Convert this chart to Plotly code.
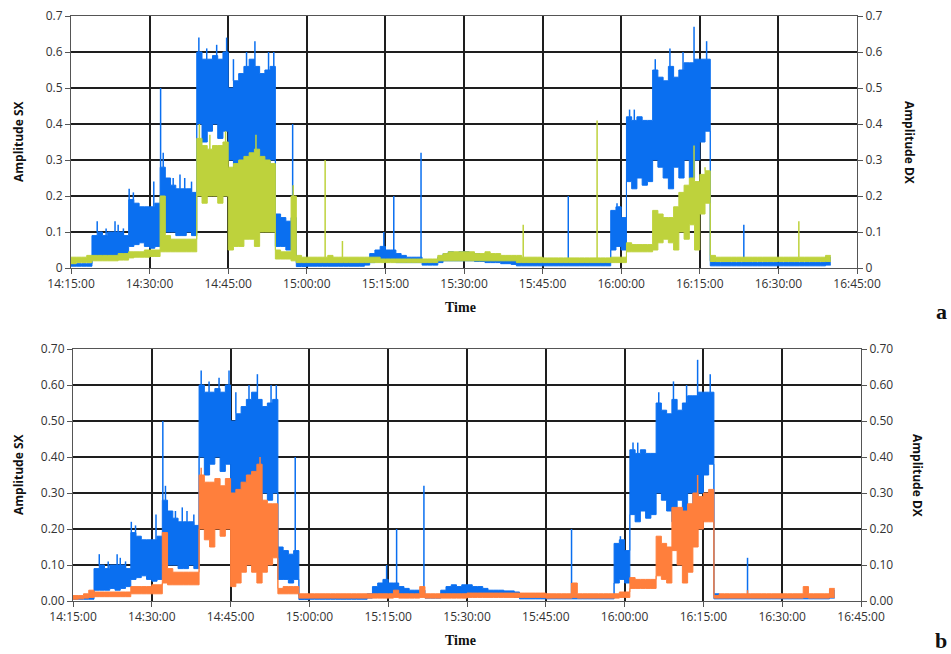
import plotly.graph_objects as go
from datetime import datetime, timedelta

# ---------------- data (per-minute envelope of the dense signal, minute 0 = 14:15:00) ----------------
SX_HI = [
    .012, .012, .012, .012, .09, .10, .09, .10, .10, .10, .09, .19, .18, .17, .17,
    .17, .18, .28, .25, .23, .22, .22, .22, .21, .60, .58, .58, .59, .58, .60,
    .50, .52, .54, .56, .58, .56, .54, .55, .56, .15, .14, .13, .14, .015, .015,
    .015, .015, .015, .015, .015, .015, .018, .018, .018, .018, .018, .02, .04, .05, .06,
    .05, .05, .04, .035, .03, .03, .03, .015, .015, .015, .03, .04, .045, .04, .045,
    .045, .04, .04, .035, .03, .03, .03, .028, .028, .025, .015, .015, .015, .015, .015,
    .015, .015, .015, .015, .015, .015, .015, .015, .015, .015, .015, .015, .015, .16, .17,
    .14, .42, .41, .42, .41, .41, .55, .53, .52, .56, .53, .55, .57, .57, .58,
    .58, .58, .02, .015, .015, .015, .015, .015, .015, .015, .015, .015, .015, .015, .015,
    .015, .015, .015, .015, .015, .015, .015, .015, .015, .03,
]
SX_LO = [
    .005, .005, .005, .005, .03, .03, .03, .035, .03, .035, .04, .06, .065, .07, .06,
    .055, .06, .12, .10, .10, .09, .09, .10, .09, .40, .35, .38, .40, .36, .38,
    .30, .25, .30, .28, .30, .25, .30, .28, .30, .06, .06, .05, .06, .004, .004,
    .005, .005, .005, .005, .005, .005, .005, .005, .005, .005, .005, .008, .015, .02, .02,
    .02, .02, .015, .015, .015, .015, .015, .008, .008, .008, .015, .02, .02, .02, .02,
    .02, .02, .018, .018, .015, .015, .015, .012, .012, .01, .006, .006, .006, .006, .006,
    .006, .006, .006, .006, .006, .006, .006, .006, .006, .006, .006, .006, .006, .05, .06,
    .05, .24, .22, .25, .23, .24, .30, .28, .25, .22, .28, .25, .30, .25, .30,
    .35, .38, .006, .006, .006, .006, .006, .006, .006, .006, .006, .006, .006, .006, .006,
    .006, .006, .006, .006, .006, .006, .006, .006, .006, .008,
]
DXA_HI = [
    .03, .03, .03, .035, .035, .035, .035, .035, .035, .04, .04, .045, .045, .045, .05,
    .05, .05, .20, .09, .08, .08, .08, .08, .08, .36, .34, .33, .34, .34, .35,
    .28, .29, .30, .31, .32, .33, .31, .30, .29, .05, .045, .045, .20, .035, .03,
    .03, .03, .03, .03, .035, .03, .03, .03, .03, .03, .03, .03, .03, .03, .025,
    .025, .025, .025, .025, .025, .025, .025, .025, .025, .025, .035, .04, .045, .045, .045,
    .045, .045, .04, .04, .045, .04, .04, .035, .035, .035, .035, .03, .03, .03, .03,
    .028, .028, .028, .028, .028, .028, .028, .028, .028, .028, .028, .028, .028, .03, .03,
    .03, .07, .065, .065, .065, .065, .16, .15, .14, .14, .17, .21, .23, .25, .24,
    .26, .27, .035, .03, .03, .03, .03, .03, .03, .03, .03, .03, .03, .03, .03,
    .03, .03, .03, .03, .03, .03, .03, .03, .03, .035,
]
DXA_LO = [
    .012, .015, .015, .015, .02, .02, .02, .02, .02, .022, .022, .028, .03, .03, .03,
    .032, .032, .045, .045, .045, .045, .045, .045, .045, .20, .18, .20, .20, .18, .20,
    .05, .06, .06, .08, .08, .06, .10, .10, .10, .025, .025, .025, .02, .015, .015,
    .015, .015, .015, .015, .015, .015, .015, .015, .015, .015, .015, .015, .015, .015, .015,
    .015, .015, .015, .015, .015, .015, .015, .015, .015, .015, .02, .02, .02, .02, .02,
    .02, .02, .02, .02, .02, .02, .02, .02, .02, .02, .015, .015, .015, .015, .015,
    .015, .015, .015, .015, .015, .015, .015, .015, .015, .015, .015, .015, .015, .015, .015,
    .015, .045, .045, .045, .045, .045, .05, .07, .08, .07, .05, .10, .08, .12, .05,
    .15, .18, .018, .018, .018, .018, .018, .018, .018, .018, .018, .018, .018, .018, .018,
    .018, .018, .018, .018, .018, .018, .018, .018, .018, .018,
]
DXB_HI = [
    .015, .015, .02, .03, .025, .025, .025, .025, .025, .025, .025, .04, .04, .04, .04,
    .045, .045, .19, .09, .08, .08, .08, .08, .08, .35, .33, .33, .34, .32, .34,
    .30, .31, .33, .35, .36, .38, .28, .27, .27, .035, .04, .04, .04, .02, .02,
    .02, .02, .02, .02, .02, .02, .02, .02, .02, .02, .02, .02, .02, .02, .02,
    .02, .03, .02, .02, .02, .02, .04, .02, .02, .02, .02, .02, .02, .02, .02,
    .022, .022, .022, .022, .022, .022, .022, .022, .022, .022, .022, .022, .022, .022, .022,
    .02, .02, .02, .02, .02, .05, .02, .02, .02, .02, .02, .02, .02, .02, .025,
    .025, .065, .06, .06, .06, .06, .18, .16, .15, .26, .26, .25, .27, .30, .29,
    .30, .31, .015, .02, .02, .02, .02, .02, .02, .02, .02, .02, .02, .02, .02,
    .02, .02, .02, .02, .04, .02, .02, .02, .02, .035,
]
DXB_LO = [
    .005, .006, .008, .01, .012, .012, .012, .012, .012, .012, .012, .02, .02, .02, .02,
    .02, .02, .05, .045, .045, .045, .045, .045, .045, .20, .17, .15, .20, .18, .20,
    .04, .05, .08, .10, .08, .05, .08, .10, .12, .02, .02, .02, .02, .008, .008,
    .008, .008, .008, .008, .008, .008, .008, .008, .008, .008, .008, .008, .008, .008, .008,
    .008, .01, .008, .008, .008, .008, .01, .008, .008, .008, .008, .008, .008, .008, .008,
    .01, .01, .01, .01, .01, .01, .01, .01, .01, .01, .01, .01, .01, .01, .01,
    .008, .008, .008, .008, .008, .01, .008, .008, .008, .008, .008, .008, .008, .008, .01,
    .01, .035, .035, .035, .035, .035, .07, .06, .05, .14, .10, .05, .08, .15, .20,
    .22, .22, .008, .008, .008, .008, .008, .008, .008, .008, .008, .008, .008, .008, .008,
    .008, .008, .008, .008, .01, .008, .008, .008, .008, .01,
]
# narrow spikes: minute and peak value
SX_SPIKE_MIN = [5.0, 6.7, 8.4, 9.0, 10.0, 11.1, 11.9, 15.8, 17.1, 17.6, 19.5, 20.8, 21.7, 23.0,
                24.4, 25.9, 27.8, 29.7, 31.0, 33.5, 35.1, 37.7, 38.7, 42.3,
                59.7, 61.6, 66.8, 94.9, 104.2, 106.6, 107.5, 111.5, 114.3, 116.8, 118.9, 121.3, 128.4]
SX_SPIKE_VAL = [0.13, 0.11, 0.13, 0.12, 0.11, 0.22, 0.21, 0.24, 0.50, 0.32, 0.25, 0.26, 0.25, 0.24,
                0.64, 0.61, 0.62, 0.64, 0.58, 0.60, 0.63, 0.60, 0.60, 0.40,
                0.10, 0.20, 0.32, 0.20, 0.18, 0.44, 0.44, 0.58, 0.61, 0.60, 0.67, 0.63, 0.12]
DXA_SPIKE_MIN = [24.5, 26.5, 29.5, 35.3, 42.4, 48.5, 51.8, 86.3, 100.4, 118.9, 121.0, 138.9]
DXA_SPIKE_VAL = [0.40, 0.37, 0.38, 0.37, 0.23, 0.30, 0.075, 0.12, 0.41, 0.34, 0.28, 0.13]
DXB_SPIKE_MIN = [24.4, 35.6, 66.8, 94.9, 118.9, 128.4]
DXB_SPIKE_VAL = [0.37, 0.40, 0.04, 0.05, 0.35, 0.03]

TICK_VALS = [0, 0.1, 0.2, 0.3, 0.4, 0.5, 0.6, 0.7]

BLUE = "#0a6ff0"
GREEN = "#bed23c"
ORANGE = "#ff7f3c"

BASE = datetime(2020, 1, 1, 14, 15)
def tx(m):
    return BASE + timedelta(minutes=m)

X = [tx(m) for m in range(len(SX_HI) + 1)]

fig = go.Figure()

def band(hi, lo, color, xa, ya):
    for vals, fill in ((lo, None), (hi, "tonexty")):
        fig.add_trace(go.Scatter(x=X, y=vals + [vals[-1]], mode="lines",
                                 line=dict(color=color, width=1, shape="hv"),
                                 fill=fill, fillcolor=color if fill else None,
                                 xaxis=xa, yaxis=ya, showlegend=False, hoverinfo="skip"))

def spikes(mins, vals, hi, color, xa, ya):
    # each spike rises from the band top of the minute it sits in
    xs, ys = [], []
    for m, v in zip(mins, vals):
        base = min(hi[int(m)], v)
        xs += [tx(m), tx(m), None]
        ys += [base, v, None]
    fig.add_trace(go.Scatter(x=xs, y=ys, mode="lines", line=dict(color=color, width=1.5),
                             xaxis=xa, yaxis=ya, showlegend=False, hoverinfo="skip"))

# panel a
band(SX_HI, SX_LO, BLUE, "x", "y")
spikes(SX_SPIKE_MIN, SX_SPIKE_VAL, SX_HI, BLUE, "x", "y")
band(DXA_HI, DXA_LO, GREEN, "x", "y2")
spikes(DXA_SPIKE_MIN, DXA_SPIKE_VAL, DXA_HI, GREEN, "x", "y2")
# panel b
band(SX_HI, SX_LO, BLUE, "x2", "y3")
spikes(SX_SPIKE_MIN, SX_SPIKE_VAL, SX_HI, BLUE, "x2", "y3")
band(DXB_HI, DXB_LO, ORANGE, "x2", "y4")
spikes(DXB_SPIKE_MIN, DXB_SPIKE_VAL, DXB_HI, ORANGE, "x2", "y4")

W, H = 951, 654
def px(x): return x / W
def py(y): return 1 - y / H

tickfont = dict(family="Open Sans, Noto Sans, sans-serif", size=12, color="#333")
xr = [tx(0), tx(150)]
xcommon = dict(type="date", range=xr, dtick=15 * 60 * 1000, tick0=tx(0), tickformat="%H:%M:%S",
               showgrid=True, gridcolor="#1e1e1e", gridwidth=1.5, showline=True, linecolor="#555",
               linewidth=1, mirror=True, ticks="outside", ticklen=5, tickcolor="#555",
               tickfont=tickfont, zeroline=False, fixedrange=True, automargin=False)
ycommon = dict(range=[0, 0.7], tickvals=TICK_VALS, showline=True, linecolor="#555", linewidth=1,
               ticks="outside", ticklen=5, tickcolor="#555", tickfont=tickfont, zeroline=False,
               automargin=False)

fig.update_layout(
    width=W, height=H, margin=dict(l=0, r=0, t=0, b=0, autoexpand=False),
    paper_bgcolor="white", plot_bgcolor="white",
    xaxis=dict(xcommon, domain=[px(71), px(857)], anchor="y"),
    yaxis=dict(ycommon, domain=[py(268), py(16)], anchor="x", showgrid=True, gridcolor="#1e1e1e",
               gridwidth=1.5, mirror=True, tickformat=".1~f"),
    yaxis2=dict(ycommon, overlaying="y", side="right", anchor="x", showgrid=False, tickformat=".1~f"),
    xaxis2=dict(xcommon, domain=[px(73), px(861)], anchor="y3"),
    yaxis3=dict(ycommon, domain=[py(601), py(349)], anchor="x2", showgrid=True, gridcolor="#1e1e1e",
                gridwidth=1.5, mirror=True, tickformat=".2f"),
    yaxis4=dict(ycommon, overlaying="y3", side="right", anchor="x2", showgrid=False, tickformat=".2f"),
)

lab = dict(family="Open Sans, Noto Sans, sans-serif", size=12, color="#111")
serif = dict(family="Liberation Serif", size=14, color="#111")
big = dict(family="Liberation Serif", size=22, color="#111")
ann = [
    dict(text="<b>Amplitude SX</b>", x=px(18), y=py(142), textangle=-90, font=lab),
    dict(text="<b>Amplitude DX</b>", x=px(910), y=py(142), textangle=90, font=lab),
    dict(text="<b>Amplitude SX</b>", x=px(18), y=py(475), textangle=-90, font=lab),
    dict(text="<b>Amplitude DX</b>", x=px(918), y=py(475), textangle=90, font=lab),
    dict(text="<b>Time</b>", x=px(460), y=py(307), font=serif),
    dict(text="<b>Time</b>", x=px(460), y=py(640), font=serif),
    dict(text="<b>a</b>", x=px(941), y=py(311), font=big),
    dict(text="<b>b</b>", x=px(941), y=py(640), font=big),
]
for a in ann:
    a.update(xref="paper", yref="paper", showarrow=False, xanchor="center", yanchor="middle")
fig.update_layout(annotations=ann)

fig.write_html("out.html")
